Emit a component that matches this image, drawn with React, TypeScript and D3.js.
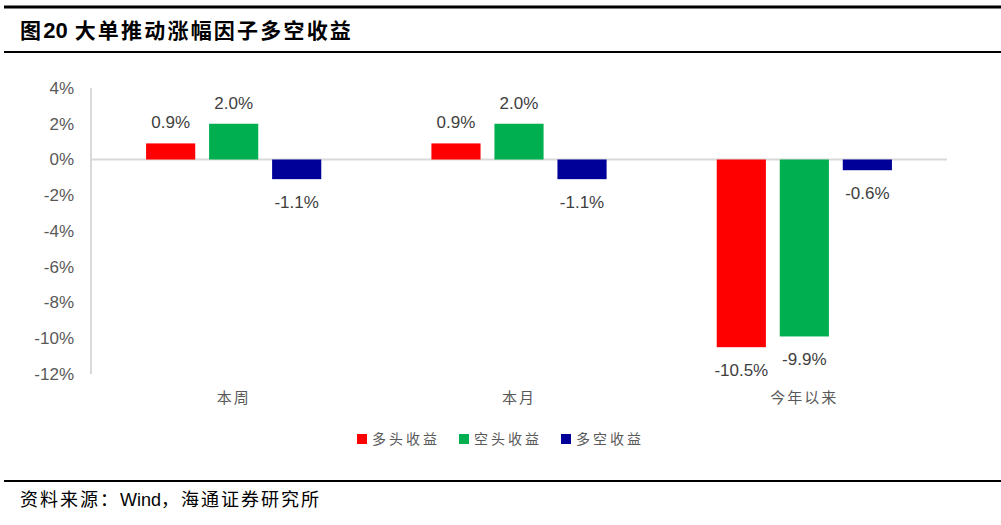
import React from "react";
import * as d3 from "d3";

const categories = ["本周", "本月", "今年以来"];
const seriesNames = ["多头收益", "空头收益", "多空收益"];
const seriesColors = ["#FF0000", "#00B050", "#000099"];
const longRet = [0.9, 0.9, -10.5];
const shortRet = [2.0, 2.0, -9.9];
const lsRet = [-1.1, -1.1, -0.6];
const yTicks = [4, 2, 0, -2, -4, -6, -8, -10, -12];

const W = 1001;
const H = 525;

export default function App() {
  const series = [longRet, shortRet, lsRet];
  const x0 = d3.scaleBand<string>().domain(categories).range([91, 947]).paddingInner(0.386).paddingOuter(0.193);
  const x1 = d3.scaleBand<string>().domain(seriesNames).range([0, x0.bandwidth()]).paddingInner(0.22);
  const y = d3.scaleLinear().domain([-12, 4]).range([374, 88]);
  const cjk = "'Noto Sans CJK SC', sans-serif";
  const latin = "'Liberation Sans', Arial, sans-serif";
  return (
    <svg width={W} height={H} style={{ position: "absolute", left: 0, top: 0, background: "#fff" }}>
      <line x1={4} x2={1001} y1={7} y2={7} stroke="#000" strokeWidth={3} />
      <text x={20} y={38} fontSize={21} fontWeight="bold" fontFamily={cjk} letterSpacing={2.2} fill="#000">
        图<tspan fontFamily={latin} fontSize={22} letterSpacing={0}>20</tspan> 大单推动涨幅因子多空收益
      </text>
      <line x1={4} x2={1001} y1={52} y2={52} stroke="#000" strokeWidth={2} />

      {yTicks.map((t) => (
        <text key={t} x={74} y={y(t)} dy="0.35em" textAnchor="end" fontSize={17} fontFamily={latin} fill="#595959">
          {t}%
        </text>
      ))}
      <line x1={91} x2={91} y1={88} y2={374} stroke="#D9D9D9" strokeWidth={2} />
      <line x1={91} x2={947} y1={y(0)} y2={y(0)} stroke="#D9D9D9" strokeWidth={2} />

      {categories.map((c, ci) => (
        <g key={c} transform={`translate(${x0(c)},0)`}>
          {series.map((s, si) => {
            const v = s[ci];
            const bx = x1(seriesNames[si])!;
            const top = v >= 0 ? y(v) : y(0);
            const h = Math.abs(y(v) - y(0));
            return (
              <g key={si}>
                <rect x={bx} y={top} width={x1.bandwidth()} height={h} fill={seriesColors[si]} />
                <text
                  x={bx + x1.bandwidth() / 2}
                  y={v >= 0 ? y(v) - 15 : y(v) + 29}
                  textAnchor="middle"
                  fontSize={17}
                  fontFamily={latin}
                  fill="#404040"
                >
                  {v.toFixed(1)}%
                </text>
              </g>
            );
          })}
          <text
            x={x0.bandwidth() / 2}
            y={403}
            textAnchor="middle"
            fontSize={15}
            fontFamily={cjk}
            letterSpacing={2}
            fill="#595959"
          >
            {c}
          </text>
        </g>
      ))}

      {seriesNames.map((n, i) => (
        <g key={n} transform={`translate(${357 + i * 102},434)`}>
          <rect x={0} y={0} width={10} height={10} fill={seriesColors[i]} />
          <text x={15} y={10} fontSize={14} fontFamily={cjk} letterSpacing={3} fill="#595959">
            {n}
          </text>
        </g>
      ))}

      <line x1={4} x2={1001} y1={481} y2={481} stroke="#000" strokeWidth={2} />
      <text x={20} y={506} fontSize={18} fontFamily={cjk} letterSpacing={2} fill="#000">
        资料来源：<tspan fontFamily={latin} letterSpacing={0}>Wind</tspan>，海通证券研究所
      </text>
    </svg>
  );
}
